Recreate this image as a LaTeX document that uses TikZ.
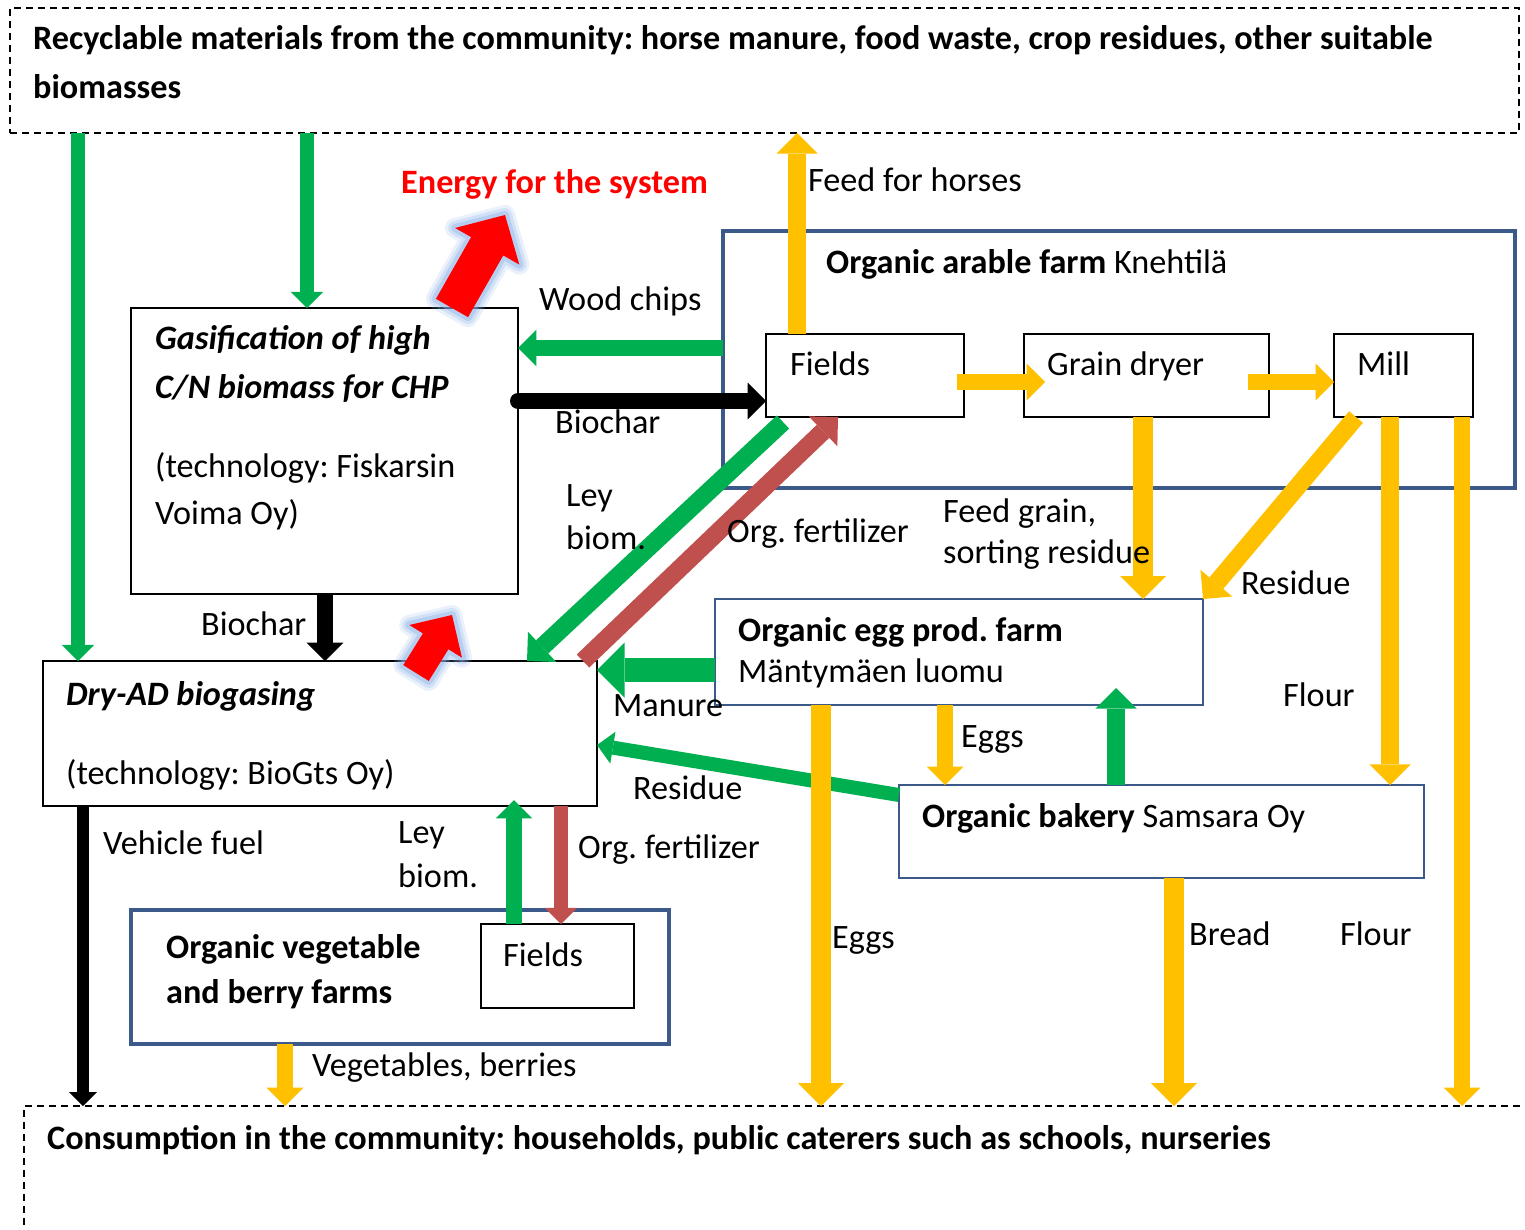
\documentclass[tikz,border=0pt]{standalone}
\usepackage{fontspec}
\setmainfont{Carlito}
\usetikzlibrary{arrows.meta,calc}
\definecolor{cG}{RGB}{0,176,80}
\definecolor{cY}{RGB}{255,192,0}
\definecolor{cBr}{RGB}{192,80,77}
\definecolor{cBl}{RGB}{59,89,137}
\definecolor{cGlow}{RGB}{140,180,235}
\newcommand\fsz{\fontsize{34.2}{49}\selectfont\frenchspacing}
\tikzset{
 txt/.style={font=\fsz, anchor=base west, inner sep=0pt},
 box/.style={anchor=north west, inner sep=0pt, outer sep=0pt},
 blkbox/.style={box, draw=black, line width=2pt},
 bluethick/.style={box, draw=cBl, line width=4.5pt},
 bluethin/.style={box, draw=cBl, line width=1.8pt},
 dashbox/.style={box, draw=black, line width=1.5pt, dash pattern=on 7pt off 5pt},
 flow/.style={line width=#1, -{Triangle[length=0pt 1.15, width=0pt 2.3, line width=0pt]}},
 ga/.style={flow=#1, draw=cG},
 ya/.style={flow=#1, draw=cY},
 ba/.style={flow=#1, draw=cBr},
 ka/.style={flow=#1, draw=black},
}
\newcommand\redarr[6]{%
  \coordinate (#1T) at (#2);
  \coordinate (#1P) at (#3);
  \coordinate (#1B) at ($(#1P)!#6!(#1T)$);
  \coordinate (#1a) at ($(#1T)!#4!90:(#1P)$);
  \coordinate (#1b) at ($(#1B)!#4!90:(#1P)$);
  \coordinate (#1c) at ($(#1B)!#5!90:(#1P)$);
  \coordinate (#1d) at ($(#1B)!#5!-90:(#1P)$);
  \coordinate (#1e) at ($(#1B)!#4!-90:(#1P)$);
  \coordinate (#1f) at ($(#1T)!#4!-90:(#1P)$);
  \foreach \lw/\op in {20/0.18,14/0.25,8/0.4}{%
    \draw[cGlow, line width=\lw pt, opacity=\op, line join=round]
      (#1a)--(#1b)--(#1c)--(#1P)--(#1d)--(#1e)--(#1f)--cycle;}
  \fill[red] (#1a)--(#1b)--(#1c)--(#1P)--(#1d)--(#1e)--(#1f)--cycle;
}
\begin{document}
\begin{tikzpicture}[x=1pt,y=-1pt]
\useasboundingbox (0,0) rectangle (1525,1229);
\fill[white] (0,0) rectangle (1525,1229);

% boxes
\node[dashbox, minimum width=1509pt, minimum height=125pt] (top) at (10,8) {};
\node[dashbox, minimum width=1530pt, minimum height=200pt] (bot) at (24,1106) {};
\node[blkbox, minimum width=387pt, minimum height=286pt] (gas) at (131,308) {};
\node[blkbox, minimum width=554pt, minimum height=145pt] (ad) at (43,661) {};
\node[bluethick, minimum width=792pt, minimum height=257pt] (arable) at (723,231) {};
\node[blkbox, minimum width=198pt, minimum height=83pt] (fields) at (766,334) {};
\node[blkbox, minimum width=245pt, minimum height=83pt] (dryer) at (1024,334) {};
\node[blkbox, minimum width=139pt, minimum height=83pt] (mill) at (1334,334) {};
\node[bluethin, minimum width=488pt, minimum height=106pt] (egg) at (715,599) {};
\node[bluethin, minimum width=525pt, minimum height=93pt] (bak) at (899,785) {};
\node[bluethick, minimum width=538pt, minimum height=134pt] (veg) at (131,910) {};
\node[blkbox, minimum width=153pt, minimum height=84pt] (vfields) at (481,924) {};

% green flows
\draw[ga=14] (top.south -| 78,0) -- (ad.north -| 78,0);
\draw[ga=14] (top.south -| 307,0) -- (gas.north -| 307,0);
\draw[ga=16] (arable.west |- 0,348) -- (gas.east |- 0,348);
\draw[ga=18] ([shift={(17,5)}]fields.south west) -- (ad.north -| 527,0);
\draw[ga=24] (egg.west |- 0,670) -- (ad.east |- 0,670);
\draw[ga=14] (bak.west |- 0,795) -- (ad.east |- 0,745);
\draw[ga=16] (vfields.north -| 514,0) -- ($(ad.south -| 514,0)+(0,-6)$);
\draw[ga=18] (bak.north -| 1116,0) -- ($(egg.south -| 1116,0)+(0,-17)$);
% brown flows
\draw[ba=18] (ad.north -| 583,0) -- (fields.south -| 838,0);
\draw[ba=14] (ad.south -| 561,0) -- (vfields.north -| 561,0);
% black flows
\draw[ka=16, line cap=round] (gas.east |- 0,401) -- (fields.west |- 0,401);
\draw[ka=16] (gas.south -| 325,0) -- (ad.north -| 325,0);
\draw[ka=12] (ad.south -| 83,0) -- (bot.north -| 83,0);
% yellow flows
\draw[ya=18] (fields.north -| 797,0) -- (top.south -| 797,0);
\draw[ya=16] ($(fields.east |- 0,382)+(-7,0)$) -- ($(dryer.west |- 0,382)+(21,0)$);
\draw[ya=16] ($(dryer.east |- 0,382)+(-21,0)$) -- (mill.west |- 0,382);
\draw[ya=20] (dryer.south -| 1143,0) -- (egg.north -| 1143,0);
\draw[ya=18] (mill.south -| 1356,0) -- (egg.north east);
\draw[ya=18] (mill.south -| 1390,0) -- (bak.north -| 1390,0);
\draw[ya=16] (mill.south -| 1462,0) -- (bot.north -| 1462,0);
\draw[ya=16] (egg.south -| 945,0) -- (bak.north -| 945,0);
\draw[ya=20] (egg.south -| 821,0) -- (bot.north -| 821,0);
\draw[ya=20] (bak.south -| 1174,0) -- (bot.north -| 1174,0);
\draw[ya=16] (veg.south -| 285,0) -- (bot.north -| 285,0);

% energy arrows
\redarr{ea}{452,308}{505,215}{18.5pt}{37pt}{36pt}
\redarr{eb}{416,673}{452,615}{15pt}{31pt}{31pt}

% texts
\node[txt] (t1) at (33,49) {\textbf{Recyclable materials from the community: horse manure, food waste, crop residues, other suitable}};
\node[txt] (t2) at (33,98) {\textbf{biomasses}};
\node[txt, text=red] (t3) at (401,193) {\textbf{Energy for the system}};
\node[txt] (t4) at (808,191) {Feed for horses};
\node[txt] (t5) at (826,273) {\textbf{Organic arable farm} Knehtilä};
\node[txt] (t6) at (539,310) {Wood chips};
\node[txt] (t7) at (155,349) {\textbf{\textit{Gasification of high}}};
\node[txt] (t8) at (155,398) {\textbf{\textit{C/N biomass for CHP}}};
\node[txt] (t9) at (790,375) {Fields};
\node[txt] (t10) at (1047,375) {Grain dryer};
\node[txt] (t11) at (1357,375) {Mill};
\node[txt] (t12) at (555,433) {Biochar};
\node[txt] (t13) at (155,477) {(technology: Fiskarsin};
\node[txt] (t14) at (155,524) {Voima Oy)};
\node[txt] (t15) at (566,506) {Ley};
\node[txt] (t16) at (566,549) {biom.};
\node[txt] (t17) at (727,542) {Org. fertilizer};
\node[txt] (t18) at (943,522) {Feed grain,};
\node[txt] (t19) at (943,563) {sorting residue};
\node[txt] (t20) at (1241,594) {Residue};
\node[txt] (t21) at (201,635) {Biochar};
\node[txt] (t22) at (738,641) {\textbf{Organic egg prod. farm}};
\node[txt] (t23) at (738,682) {Mäntymäen luomu};
\node[txt] (t24) at (66,705) {\textbf{\textit{Dry-AD biogasing}}};
\node[txt] (t25) at (613,716) {Manure};
\node[txt] (t26) at (1283,706) {Flour};
\node[txt] (t27) at (961,747) {Eggs};
\node[txt] (t28) at (66,784) {(technology: BioGts Oy)};
\node[txt] (t29) at (633,799) {Residue};
\node[txt] (t30) at (922,827) {\textbf{Organic bakery} Samsara Oy};
\node[txt] (t31) at (103,854) {Vehicle fuel};
\node[txt] (t32) at (398,843) {Ley};
\node[txt] (t33) at (398,887) {biom.};
\node[txt] (t34) at (578,858) {Org. fertilizer};
\node[txt] (t35) at (832,948) {Eggs};
\node[txt] (t36) at (1189,945) {Bread};
\node[txt] (t37) at (1340,945) {Flour};
\node[txt] (t38) at (166,958) {\textbf{Organic vegetable}};
\node[txt] (t39) at (166,1003) {\textbf{and berry farms}};
\node[txt] (t40) at (503,966) {Fields};
\node[txt] (t41) at (312,1076) {Vegetables, berries};
\node[txt] (t42) at (47,1149) {\textbf{Consumption in the community: households, public caterers such as schools, nurseries}};
\end{tikzpicture}
\end{document}
